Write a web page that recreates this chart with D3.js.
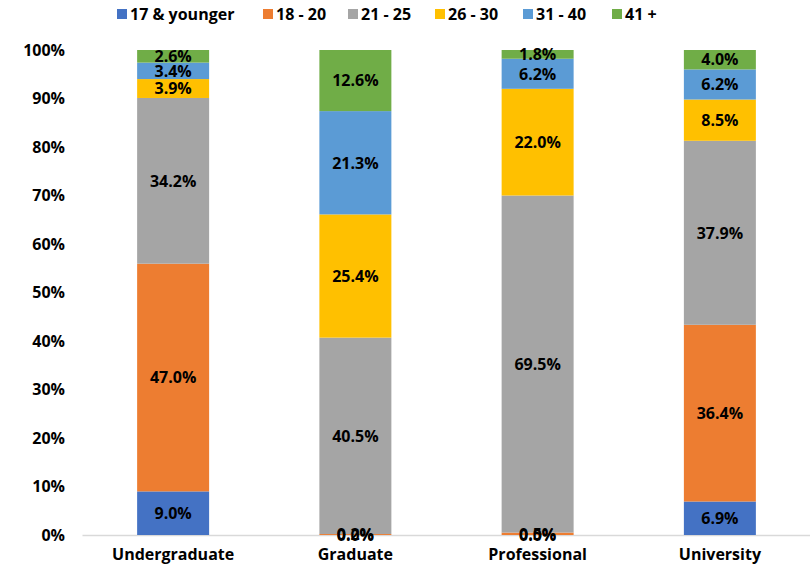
<!DOCTYPE html>
<html>
  <head>
    <meta charset="utf-8">
    <title>Age distribution by student level</title>
    <script src="https://d3js.org/d3.v7.min.js"></script>
    <style>
      body {
        margin: 0;
        font-family: 'Open Sans', sans-serif;
        background: #fff;
      }
      .y-axis text, .x-axis text {
        font-family: 'Open Sans', sans-serif;
        font-weight: 700;
        fill: #000;
      }
      .tick line { opacity: 0 }
      .seg-label {
        font-weight: 700;
        font-size: 16px;
        fill: #000;
      }
    </style>
  </head>
  <body>
    <div id="chart"></div>
    <script>

    //********************
    // data
    //********************

    var categories = ["Undergraduate", "Graduate", "Professional", "University"];
    var ageGroups = ["17 & younger", "18 - 20", "21 - 25", "26 - 30", "31 - 40", "41 +"];
    var colors = ["#4472C4", "#ED7D31", "#A5A5A5", "#FFC000", "#5B9BD5", "#70AD47"];

    // percent per age group, one value per category
    var age17 = [9.0, 0.0, 0.0, 6.9];
    var age18 = [47.0, 0.2, 0.5, 36.4];
    var age21 = [34.2, 40.5, 69.5, 37.9];
    var age26 = [3.9, 25.4, 22.0, 8.5];
    var age31 = [3.4, 21.3, 6.2, 6.2];
    var age41 = [2.6, 12.6, 1.8, 4.0];

    var yTicks = [0, 0.1, 0.2, 0.3, 0.4, 0.5, 0.6, 0.7, 0.8, 0.9, 1.0];

    //********************
    // setup, scales
    //********************

    var width = 810,
        height = 572,
        margin = { top: 50, right: -1, bottom: 37, left: 82 };

    var svg = d3.select("#chart").append("svg")
        .attr("width", width).attr("height", height);

    var series = [age17, age18, age21, age26, age31, age41];

    // rows for d3.stack, values normalised to sum to 1
    var rows = categories.map(function(c, i) {
        var row = { cat: c };
        var total = d3.sum(series, s => s[i]);
        ageGroups.forEach((g, j) => row[g] = series[j][i] / total);
        row.raw = series.map(s => s[i]);
        return row;
    });

    var stacked = d3.stack().keys(ageGroups)(rows);

    var xScale = d3.scaleBand().domain(categories)
        .range([margin.left, width - margin.right])
        .paddingInner(0.605)
        .paddingOuter(0.3025);

    var yScale = d3.scaleLinear().domain([0, 1])
        .range([height - margin.bottom, margin.top]);

    var color = d3.scaleOrdinal().domain(ageGroups).range(colors);

    //********************
    // axes
    //********************

    var yAxis = svg.append("g").attr("class", "y-axis")
        .attr("transform", `translate(${margin.left - 17}, 0)`)
        .call(d3.axisLeft(yScale).tickValues(yTicks).tickFormat(d3.format(".0%")).tickSize(0));
    yAxis.select(".domain").remove();
    yAxis.selectAll("text").style("font-size", "16px").attr("x", 0);

    var xAxis = svg.append("g").attr("class", "x-axis")
        .attr("transform", `translate(0, ${height - margin.bottom})`)
        .call(d3.axisBottom(xScale).tickSize(0).tickSizeOuter(0));
    xAxis.select(".domain").attr("stroke", "#D9D9D9").attr("stroke-width", 1.5);
    xAxis.selectAll("text").style("font-size", "16px").attr("dy", "1.35em");

    //********************
    // stacked bars
    //********************

    var groups = svg.selectAll("g.age")
        .data(stacked)
        .enter().append("g")
        .attr("class", "age")
        .attr("fill", d => color(d.key));

    groups.selectAll("rect")
        .data(d => d)
        .enter().append("rect")
        .attr("x", d => xScale(d.data.cat))
        .attr("y", d => yScale(d[1]))
        .attr("width", xScale.bandwidth())
        .attr("height", d => yScale(d[0]) - yScale(d[1]));

    // labels in the middle of each segment
    stacked.forEach(function(s, j) {
        svg.append("g").selectAll("text")
            .data(s)
            .enter().append("text")
            .attr("class", "seg-label")
            .attr("x", d => xScale(d.data.cat) + xScale.bandwidth() / 2)
            .attr("y", d => yScale((d[0] + d[1]) / 2))
            .attr("dy", "0.36em")
            .attr("text-anchor", "middle")
            .text(d => d.data.raw[j].toFixed(1) + "%");
    });

    //******
    //legend
    //******

    var legendX = [117, 263, 348, 435, 523, 612];

    var legend = svg.append("g").attr("transform", "translate(0,14)");

    legend.selectAll("rect")
        .data(ageGroups)
        .enter().append("rect")
        .attr("x", (d, i) => legendX[i])
        .attr("y", -5)
        .attr("width", 10)
        .attr("height", 10)
        .attr("fill", d => color(d));

    legend.selectAll("text")
        .data(ageGroups)
        .enter().append("text")
        .attr("x", (d, i) => legendX[i] + 13)
        .attr("y", 0)
        .attr("dy", "0.36em")
        .style("font-size", "16px")
        .style("font-weight", 700)
        .text(d => d);

    </script>
  </body>
</html>
